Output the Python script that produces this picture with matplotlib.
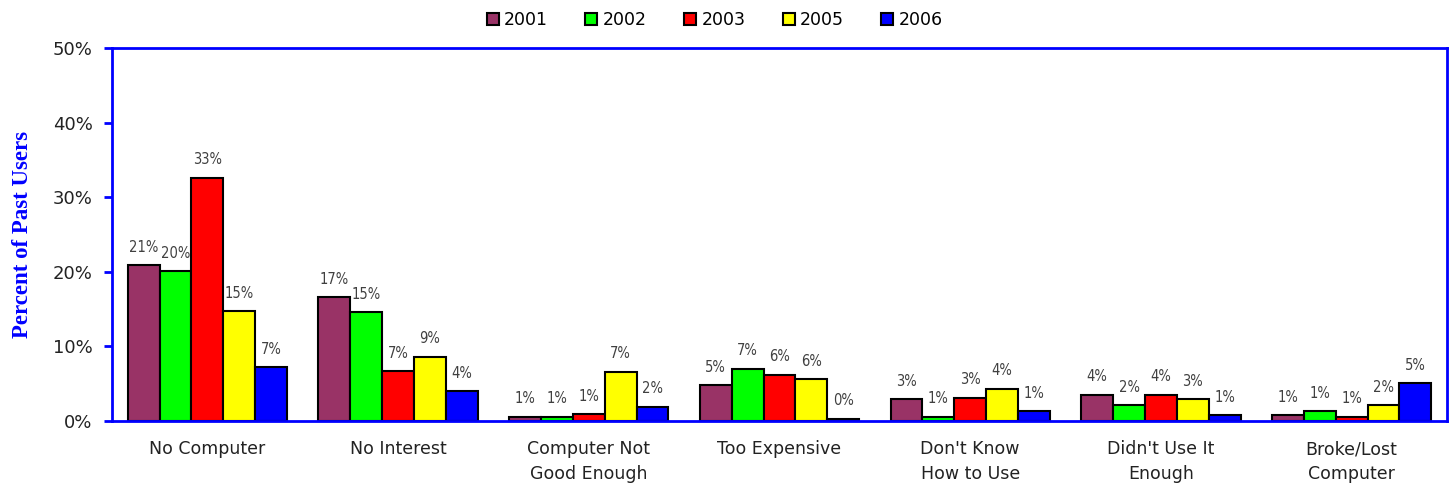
import matplotlib
matplotlib.use("Agg")
import matplotlib.pyplot as plt
import numpy as np
from matplotlib.patches import Patch

categories = ["No Computer", "No Interest", "Computer Not\nGood Enough", "Too Expensive",
              "Don't Know\nHow to Use", "Didn't Use It\nEnough", "Broke/Lost\nComputer"]
years = ["2001", "2002", "2003", "2005", "2006"]
v2001 = [20.9, 16.6, 0.6, 4.8, 2.9, 3.5, 0.8]
v2002 = [20.1, 14.6, 0.6, 7.0, 0.6, 2.1, 1.3]
v2003 = [32.6, 6.7, 0.9, 6.2, 3.1, 3.5, 0.6]
v2005 = [14.7, 8.6, 6.6, 5.6, 4.3, 2.9, 2.1]
v2006 = [7.2, 4.0, 1.9, 0.3, 1.3, 0.8, 5.1]
series = [v2001, v2002, v2003, v2005, v2006]
colors = ["#993366", "#00FF00", "#FF0000", "#FFFF00", "#0000FF"]

fig = plt.figure(figsize=(14.54, 4.87), dpi=100)
ax = fig.add_axes([112/1454, 1-421/487, (1447-112)/1454, (421-48)/487])

x = np.arange(len(categories))
w = 0.167
for i, (vals, c, yr) in enumerate(zip(series, colors, years)):
    pos = x + (i - 2) * w
    ax.bar(pos, vals, width=w, color=c, edgecolor="black", linewidth=1.5, zorder=2)
    for p, v in zip(pos, vals):
        ax.text(p, v + 1.4, f"{v:.0f}%", ha="center", va="bottom", fontsize=10.5,
                color="#404040", family="DejaVu Sans", fontstretch="condensed")

ax.set_xlim(-0.5, len(categories) - 0.5)
ax.set_ylim(0, 50)
ax.set_yticks(range(0, 51, 10))
ax.set_yticklabels([f"{t}%" for t in range(0, 51, 10)], fontsize=13, color="#222222")
ax.set_xticks(x)
ax.set_xticklabels(categories, fontsize=12.5, color="#222222", linespacing=1.5)
ax.tick_params(axis="x", length=0, pad=14)
ax.tick_params(axis="y", color="blue", width=2, length=6, pad=8)
for s in ax.spines.values():
    s.set_color("blue")
    s.set_linewidth(2)
ax.set_ylabel("Percent of Past Users", family="Liberation Serif", fontweight="bold",
              fontsize=16.5, color="blue", labelpad=14)

handles = [Patch(facecolor=c, edgecolor="black", linewidth=1.5) for c in colors]
fig.legend(handles, years, loc="upper center", bbox_to_anchor=(0.4915, 1.01), ncol=5,
           frameon=False, fontsize=12.5, handlelength=0.7, handleheight=0.7,
           handletextpad=0.3, columnspacing=2.15)

fig.savefig("out.png", dpi=100)
